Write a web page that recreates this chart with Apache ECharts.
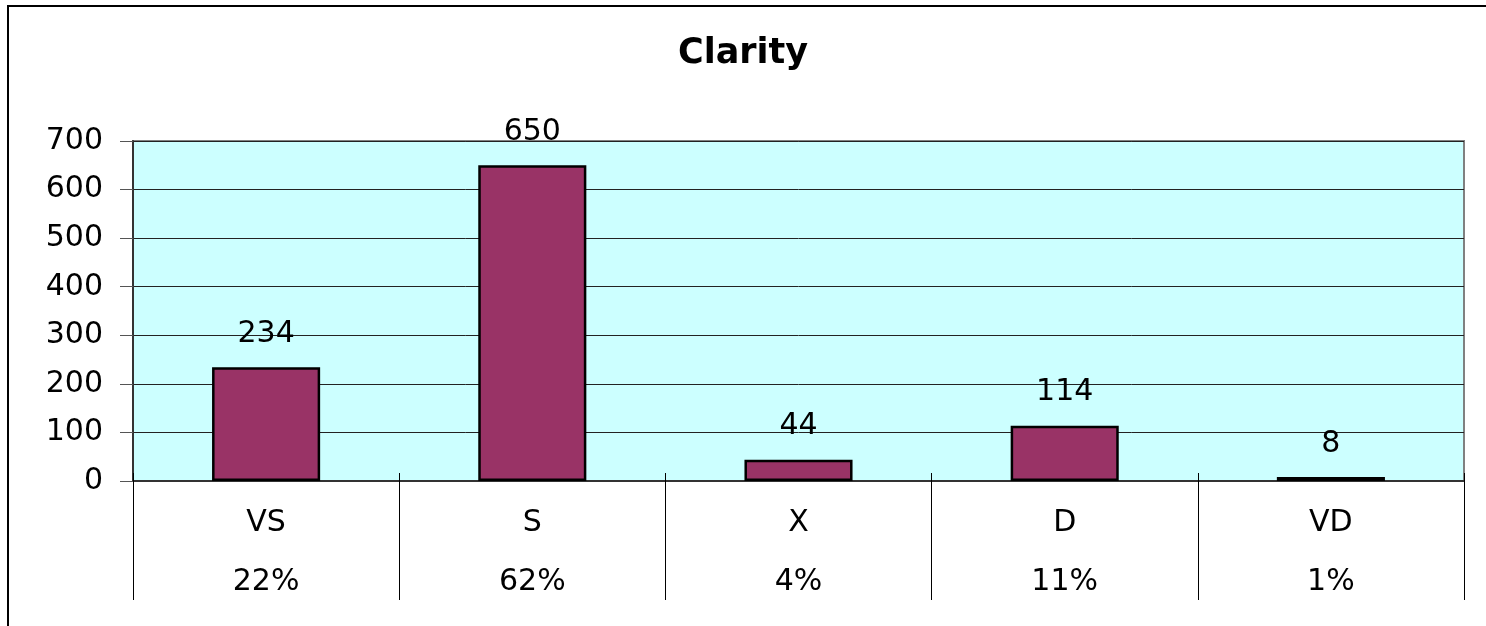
<!DOCTYPE html>
<html>
<head>
<meta charset="utf-8">
<script src="https://cdn.jsdelivr.net/npm/echarts@6/dist/echarts.min.js"></script>
<style>
  html, body { margin: 0; padding: 0; background: #fff; overflow: hidden; }
  #frame { position: absolute; left: 7px; top: 5px; width: 2000px; height: 2000px; border: 2px solid #000; }
  #chart { position: absolute; left: 0; top: 0; width: 1486px; height: 626px; }
</style>
</head>
<body>
<div id="frame"></div>
<div id="chart"></div>
<script>
// clarity grades and counts
const categories = ['VS', 'S', 'X', 'D', 'VD'];
const counts = [234, 650, 44, 114, 8];
const shares = ['22%', '62%', '4%', '11%', '1%'];
const yTicks = { min: 0, max: 700, interval: 100 };

const font = '"DejaVu Sans", Arial, sans-serif';

const chart = echarts.init(document.getElementById('chart'));
chart.setOption({
  backgroundColor: 'transparent',
  animation: false,
  title: {
    text: 'Clarity',
    left: 'center',
    top: 31,
    textStyle: { fontFamily: font, fontSize: 35, fontWeight: 'bold', color: '#000' }
  },
  grid: {
    left: 133,
    right: 22,
    top: 141,
    bottom: 145,
    show: true,
    backgroundColor: '#CCFFFF',
    borderColor: '#808080',
    borderWidth: 2
  },
  xAxis: [
    {
      type: 'category',
      data: categories,
      position: 'bottom',
      axisLine: { lineStyle: { color: '#333', width: 2 } },
      axisTick: { show: true, inside: false, length: 119, lineStyle: { color: '#000' } },
      axisLabel: {
        margin: 13,
        formatter: (v, i) => '{a|' + v + '}\n{b|' + shares[i] + '}',
        rich: {
          a: { fontFamily: font, fontSize: 30, color: '#000', lineHeight: 59 },
          b: { fontFamily: font, fontSize: 30, color: '#000', lineHeight: 59 }
        }
      }
    },
    {
      type: 'category',
      data: categories,
      position: 'bottom',
      axisLine: { show: false },
      axisTick: { show: true, inside: true, length: 8, lineStyle: { color: '#000' } },
      axisLabel: { show: false }
    }
  ],
  yAxis: {
    type: 'value',
    min: yTicks.min,
    max: yTicks.max,
    interval: yTicks.interval,
    axisLine: { show: true, lineStyle: { color: '#333', width: 2 } },
    axisTick: { show: true, length: 13, lineStyle: { color: '#555' } },
    axisLabel: { margin: 30, fontFamily: font, fontSize: 30, color: '#000' },
    splitLine: { show: true, lineStyle: { color: '#222', width: 1 } }
  },
  series: [
    {
      type: 'bar',
      xAxisIndex: 0,
      data: counts,
      barWidth: '40.6%',
      itemStyle: { color: '#993366', borderColor: '#000', borderWidth: 2.5 },
      label: {
        show: true,
        position: 'top',
        distance: 18,
        fontFamily: font,
        fontSize: 30,
        color: '#000'
      }
    }
  ]
});
</script>
</body>
</html>
